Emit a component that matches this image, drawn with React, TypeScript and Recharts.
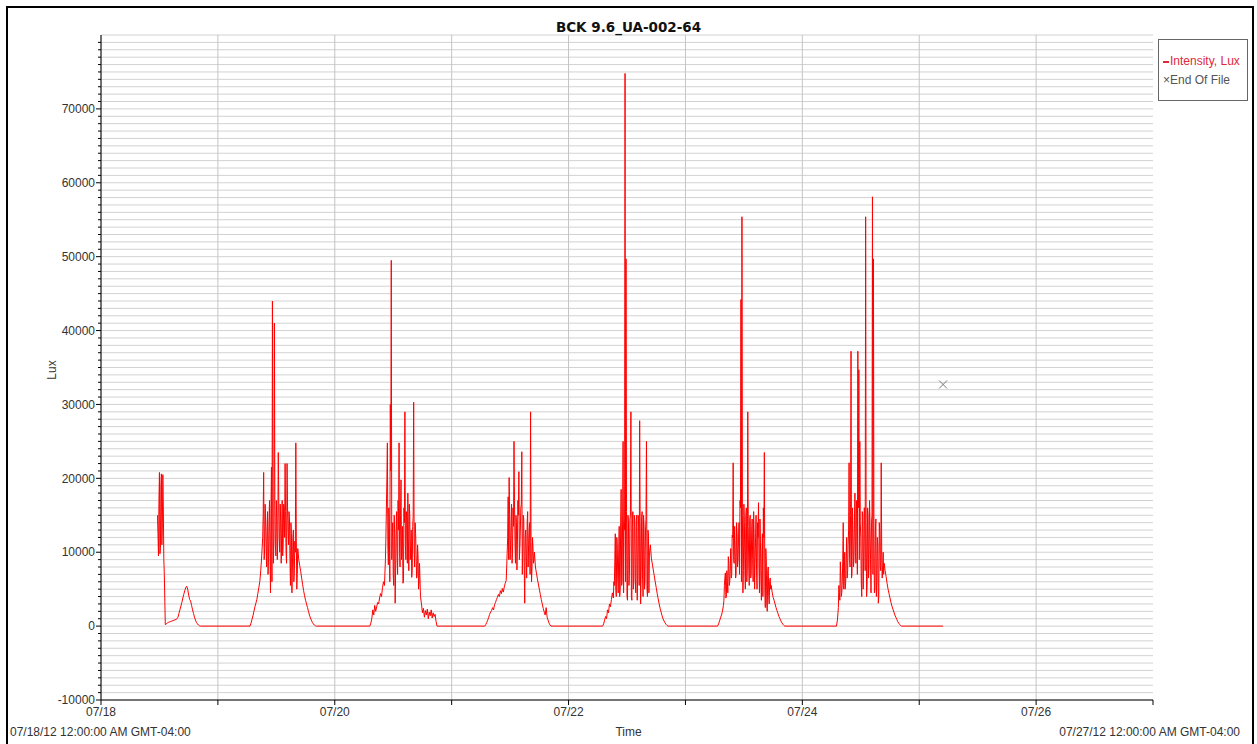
import React from "react";
import {
  ComposedChart,
  Line,
  Scatter,
  XAxis,
  YAxis,
  CartesianGrid,
} from "recharts";

// hours since 07/18 00:00, one reading every 0.2 h,
// plus in-between readings (offset 0.1 h) through the noisy midday stretch
const STEP = 0.2;

const day18Start = 11.6;
const day18Lux = [15000, 9500, 20800, 10500, 20600, 14000, 16000, 7000, 200, 300, 400, 500, 550, 600, 650, 700, 750, 800, 850, 900, 1000, 1200, 1700, 2200, 2700, 3200, 3800, 4300, 4800, 5200, 5400, 5000, 4200, 3600, 3400, 2800, 2200, 1700, 1200, 800, 500, 300, 150, 50, 0];
const day18MidStart = 11.7;
const day18Mid = [12500, 17000, 9800, 19000, 11000, 20500, 9000];

const day19Start = 30.6;
const day19Lux = [0, 400, 900, 1400, 2000, 2600, 3100, 3600, 4400, 5200, 6000, 7500, 9500, 12000, 20800, 10500, 14500, 8000, 15500, 9500, 17000, 4500, 21500, 44000, 8500, 41000, 11000, 17000, 9000, 23500, 12000, 16500, 8500, 17000, 11000, 16000, 22000, 10000, 22000, 13000, 15500, 9000, 14000, 4500, 12000, 6000, 11500, 24800, 5000, 10500, 9000, 8200, 7400, 6500, 5600, 4800, 4100, 3500, 3000, 2500, 2000, 1500, 1100, 800, 500, 300, 150, 50, 0];
const day19MidStart = 33.3;
const day19Mid = [15000, 9000, 16500, 11000, 13000, 7000, 14000, 10000, 16000, 6000, 15000, 12000, 17000, 9500, 14500, 12000, 17000, 10000, 14000, 12500, 9500, 16500, 12000, 15500, 8500, 16000, 11000, 14500, 5500, 12500, 8000, 13000, 7500, 10000, 12000, 7000];

const day20Start = 55.2;
const day20Lux = [0, 400, 1000, 2200, 1500, 2800, 2000, 2600, 3200, 3000, 3800, 4400, 4000, 5200, 6000, 5500, 9000, 16000, 24800, 8300, 14000, 30000, 49500, 12000, 7000, 15000, 3100, 13000, 9500, 17000, 24800, 8000, 19800, 10500, 5800, 16000, 29000, 9000, 14500, 18000, 7500, 15000, 11000, 6600, 13500, 30300, 8000, 12500, 6500, 11000, 5000, 8500, 4000, 3000, 1800, 2400, 1200, 2100, 1500, 2300, 1000, 1900, 1400, 2200, 1100, 1800, 1300, 1600, 600, 0];
const day20MidStart = 58.5;
const day20Mid = [12000, 20000, 11000, 16000, 6000, 21000, 9000, 14000, 5500, 12500, 8000, 15500, 7000, 13000, 10000, 15000, 9000, 13500, 6000, 14000, 11000, 15500, 8500, 12000, 16500, 9000, 13000, 7500, 15000, 10000, 14000, 9500, 7000, 9500, 6000];

const day21Start = 78.8;
const day21Lux = [0, 200, 500, 800, 1200, 1600, 1900, 2100, 2500, 2200, 2900, 3200, 3600, 3900, 4300, 4000, 4800, 4400, 5100, 4600, 5300, 5800, 6200, 10000, 17500, 20100, 9000, 14000, 8500, 16000, 25000, 11500, 15000, 7600, 17000, 20900, 10500, 16000, 23600, 9500, 14500, 3100, 13000, 6500, 15500, 11000, 14000, 29000, 6000, 12000, 8500, 10000, 8000, 7200, 6400, 5700, 5000, 4300, 3600, 3000, 2400, 1900, 1500, 2500, 1200, 800, 400, 150, 0];
const day21MidStart = 83.3;
const day21Mid = [8000, 12000, 9000, 15000, 11000, 16500, 10000, 13500, 17000, 8500, 14000, 11000, 15000, 9000, 13000, 16500, 7000, 15000, 8000, 12000, 9500, 14000, 8000, 13000, 7000, 11500, 8000, 10500, 9000];

const day22Start = 103.0;
const day22Lux = [0, 300, 800, 1300, 1000, 2200, 1800, 3000, 2600, 3600, 4500, 3800, 5500, 12500, 4000, 11000, 4500, 13500, 5000, 18500, 6000, 25000, 14000, 74800, 49700, 4000, 15000, 5500, 14500, 29000, 3500, 15500, 6000, 14000, 4500, 15000, 7000, 13500, 27800, 3000, 14500, 6500, 15000, 5000, 13000, 25000, 4000, 12500, 9500, 11000, 9200, 8400, 7600, 6800, 6000, 5200, 4400, 3700, 3000, 2400, 1900, 1400, 1000, 700, 450, 250, 100, 0];
const day22MidStart = 105.3;
const day22Mid = [6000, 9000, 5000, 12000, 6500, 10500, 4000, 14000, 5500, 15000, 4500, 13000, 6000, 15500, 3500, 14000, 7000, 15000, 4000, 13500, 5000, 15000, 6500, 14500, 3500, 15000, 5500, 14000, 7000, 15500, 4000, 13500, 6000, 14500, 5000, 13000, 4500, 10500];

const day23Start = 126.6;
const day23Lux = [0, 300, 700, 1100, 1500, 2000, 2800, 5500, 7200, 4000, 6000, 9400, 5500, 8000, 6500, 12300, 22100, 8500, 11000, 7000, 12500, 9000, 14000, 17000, 44200, 55400, 4500, 16500, 7500, 15000, 6000, 29000, 8000, 14500, 6500, 13000, 9000, 15500, 5000, 12000, 7500, 14000, 16700, 4500, 11500, 3500, 12500, 16000, 23500, 2500, 9000, 2000, 8000, 3000, 6500, 5500, 4600, 3900, 3500, 3000, 2500, 2100, 1700, 1300, 1000, 700, 450, 250, 100, 0];
const day23MidStart = 127.9;
const day23Mid = [3500, 6500, 3800, 7500, 4500, 8500, 6000, 10500, 7000, 12000, 9000, 13500, 6500, 14000, 8000, 12000, 7000, 16000, 6000, 15000, 7500, 14000, 5000, 16000, 8000, 13500, 5500, 15000, 7000, 14500, 6000, 12500, 8500, 15000, 5000, 12000, 8000, 14500, 6000, 10000, 4000, 12000, 5000, 10500, 3000, 7500, 4000, 6000, 5000];

const day24Start = 151.0;
const day24Lux = [0, 800, 2500, 4500, 8700, 4000, 6000, 14000, 6500, 5000, 9000, 6500, 11000, 22100, 8000, 37200, 7000, 12500, 9000, 18000, 8500, 15000, 37200, 34700, 25000, 12000, 4000, 15000, 9500, 16000, 55400, 4000, 16000, 6500, 17000, 9000, 14000, 58100, 49700, 4500, 13000, 4000, 12000, 3100, 14000, 8000, 22100, 6500, 10000, 8500, 7500, 6700, 5800, 5000, 4400, 3800, 3200, 2700, 2300, 1900, 1500, 1200, 900, 600, 400, 200, 80, 0];
const day24MidStart = 151.5;
const day24Mid = [5500, 3500, 7000, 4500, 9000, 5000, 10000, 6000, 12000, 7500, 13000, 9000, 15000, 6500, 16000, 8000, 14500, 10000, 17000, 7000, 16000, 9000, 14000, 6000, 15500, 5000, 16000, 7500, 14000, 5500, 15000, 8000, 13500, 4500, 15000, 7000, 13000, 5000, 14500, 6000, 11000, 4000, 12500, 7500, 9500, 8000, 7000];

const endHour = 172.9;
const endOfFileLux = 32700;

const dayTicks = [0, 24, 48, 72, 96, 120, 144, 168, 192, 216];
const dayLabels = ["07/18", "", "07/20", "", "07/22", "", "07/24", "", "07/26", ""];

const runs = [
  { start: day18Start, lux: day18Lux },
  { start: day18MidStart, lux: day18Mid },
  { start: day19Start, lux: day19Lux },
  { start: day19MidStart, lux: day19Mid },
  { start: day20Start, lux: day20Lux },
  { start: day20MidStart, lux: day20Mid },
  { start: day21Start, lux: day21Lux },
  { start: day21MidStart, lux: day21Mid },
  { start: day22Start, lux: day22Lux },
  { start: day22MidStart, lux: day22Mid },
  { start: day23Start, lux: day23Lux },
  { start: day23MidStart, lux: day23Mid },
  { start: day24Start, lux: day24Lux },
  { start: day24MidStart, lux: day24Mid },
];

const data: { h: number; v: number }[] = [];
runs.forEach((r) => {
  r.lux.forEach((v, i) => data.push({ h: +(r.start + i * STEP).toFixed(2), v }));
});
data.push({ h: endHour, v: 0 });
data.sort((a, b) => a.h - b.h);

const eofData = [{ h: endHour, v: endOfFileLux }];

const yTicks: number[] = [];
for (let v = -10000; v < 80000; v += 1000) yTicks.push(v);

const FONT = "'Liberation Sans', Arial, sans-serif";

function YTick(props: any) {
  const { x, y, payload } = props;
  const major = payload.value % 10000 === 0;
  return (
    <g>
      <line x1={x - (major ? 5 : 3)} x2={x} y1={y} y2={y} stroke="#000" />
      {major && (
        <text x={x - 6} y={y} dy="0.35em" textAnchor="end" fontSize={12} fill="#333" fontFamily={FONT}>
          {payload.value}
        </text>
      )}
    </g>
  );
}

function EofMark(props: any) {
  const { cx, cy } = props;
  return (
    <path
      d={`M${cx - 4},${cy - 4}L${cx + 4},${cy + 4}M${cx + 4},${cy - 4}L${cx - 4},${cy + 4}`}
      stroke="#777"
      strokeWidth={1}
    />
  );
}

// day lines, leaving out the last one on the right edge
const dayLines = ({ offset }: any) =>
  dayTicks.slice(0, -1).map((t) => offset.left + (t / 216) * offset.width);

export default function App() {
  return (
    <div style={{ position: "absolute", left: 0, top: 0, width: 1257, height: 744, overflow: "hidden", background: "#fff", fontFamily: FONT }}>
      <ComposedChart
        width={1257}
        height={744}
        data={data}
        margin={{ top: 35, right: 104, bottom: 14, left: 0 }}
      >
        <CartesianGrid vertical={false} stroke="#d2d2d2" />
        <CartesianGrid horizontal={false} stroke="#c4c4c4" verticalCoordinatesGenerator={dayLines} />
        <XAxis
          dataKey="h"
          type="number"
          domain={[0, 216]}
          ticks={dayTicks}
          interval={0}
          height={30}
          tickSize={5}
          tickMargin={2}
          stroke="#000"
          tick={{ fill: "#333", fontSize: 12, fontFamily: FONT }}
          tickFormatter={(v: number) => dayLabels[dayTicks.indexOf(v)] ?? ""}
        />
        <YAxis
          dataKey="v"
          type="number"
          domain={[-10000, 80000]}
          ticks={yTicks}
          interval={0}
          width={101}
          tickSize={0}
          tickMargin={0}
          stroke="#000"
          tick={(p: any) => <YTick {...p} />}
          allowDataOverflow
        />
        <Line
          type="linear"
          dataKey="v"
          stroke="#ff0000"
          strokeWidth={1}
          dot={false}
          activeDot={false}
          isAnimationActive={false}
        />
        <Scatter data={eofData} dataKey="v" shape={(p: any) => <EofMark {...p} />} isAnimationActive={false} />
      </ComposedChart>

      <div style={{ position: "absolute", left: 6, top: 6, width: 1248, height: 740, border: "2px solid #000", borderBottom: "none", boxSizing: "border-box", pointerEvents: "none" }} />

      <div style={{ position: "absolute", left: 0, width: 1257, top: 19, textAlign: "center", fontFamily: "'DejaVu Sans', sans-serif", fontWeight: "bold", fontSize: 13.5, color: "#111" }}>
        BCK 9.6_UA-002-64
      </div>

      <div style={{ position: "absolute", left: 38, top: 362, width: 30, height: 16, transform: "rotate(-90deg)", fontSize: 12, color: "#333", textAlign: "center" }}>
        Lux
      </div>

      <div style={{ position: "absolute", left: 0, width: 1257, top: 725, textAlign: "center", fontSize: 12, color: "#333" }}>Time</div>
      <div style={{ position: "absolute", left: 10, top: 725, fontSize: 12, color: "#333" }}>07/18/12 12:00:00 AM GMT-04:00</div>
      <div style={{ position: "absolute", right: 17, top: 725, fontSize: 12, color: "#333" }}>07/27/12 12:00:00 AM GMT-04:00</div>

      <div style={{ position: "absolute", left: 1158, top: 39, width: 90, height: 62, border: "1px solid #666", boxSizing: "border-box", background: "#fff", fontSize: 12, lineHeight: "19px", paddingTop: 12, paddingLeft: 4 }}>
        <div style={{ color: "#e0283c", whiteSpace: "nowrap" }}>
          <span style={{ display: "inline-block", width: 6, height: 2, background: "#e0283c", verticalAlign: "middle", marginRight: 1 }} />
          Intensity, Lux
        </div>
        <div style={{ color: "#555", whiteSpace: "nowrap" }}>×End Of File</div>
      </div>
    </div>
  );
}
